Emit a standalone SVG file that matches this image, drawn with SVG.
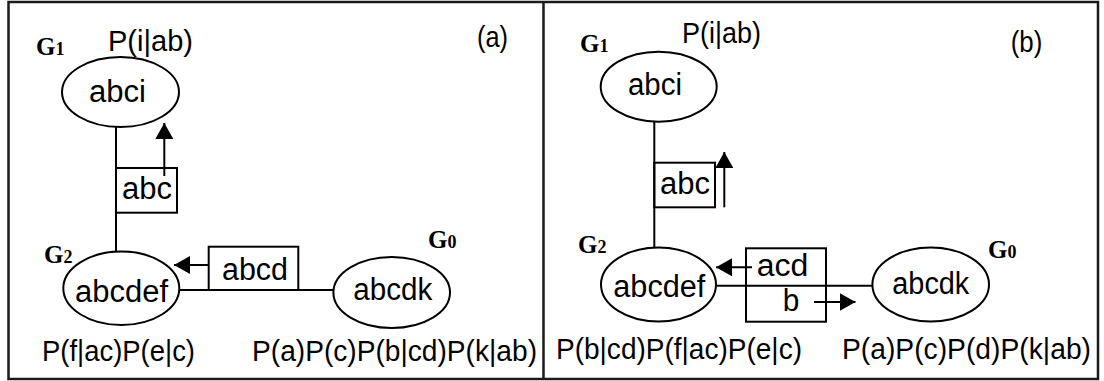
<svg xmlns="http://www.w3.org/2000/svg" width="1104" height="381" viewBox="0 0 1104 381">
<style>
.frame{fill:none;stroke:#1a1a1a;stroke-width:2.5}
.node{fill:#fff;stroke:#000;stroke-width:2}
.box{fill:none;stroke:#000;stroke-width:2}
.edge{fill:none;stroke:#000;stroke-width:2}
.arrow{fill:none;stroke:#000;stroke-width:2;marker-end:url(#ah)}
.lbl{font-family:"Liberation Sans",Arial,sans-serif;font-size:31px;fill:#000}
.prob{font-family:"Liberation Sans",Arial,sans-serif;font-size:29px;fill:#000}
.g{font-family:"Liberation Serif","Times New Roman",serif;font-weight:bold;font-size:25px;fill:#000}
.gs{font-size:18px}
</style>
<defs>
<marker id="ah" markerUnits="userSpaceOnUse" markerWidth="16" markerHeight="18" refX="16" refY="9" orient="auto">
<path d="M0,0 L16,9 L0,18 z" fill="#000"/>
</marker>
</defs>
<rect x="0" y="0" width="1104" height="381" fill="#fff"/>
<g id="frame">
<rect class="frame" x="8.5" y="2" width="1089.5" height="377"/>
<line class="frame" x1="543.5" y1="2" x2="543.5" y2="379"/>
</g>
<g id="connectors">
<line class="edge" x1="116" y1="127" x2="116" y2="252"/>
<line class="edge" x1="179.3" y1="290" x2="333.3" y2="290"/>
<line class="arrow" x1="164.3" y1="176" x2="164.3" y2="123"/>
<line class="arrow" x1="208.7" y1="265" x2="174" y2="265"/>
<line class="edge" x1="654.3" y1="121.7" x2="654.3" y2="247.5"/>
<line class="edge" x1="716" y1="285.7" x2="872.3" y2="285.7"/>
<line class="arrow" x1="724.3" y1="207.3" x2="724.3" y2="152"/>
<line class="arrow" x1="752" y1="267.3" x2="716" y2="267.3"/>
<line class="arrow" x1="814" y1="302" x2="855.5" y2="302"/>
</g>
<g id="panel-a">
<text class="prob" x="477" y="47" font-size="26" textLength="31" lengthAdjust="spacingAndGlyphs">(a)</text>
<g id="a-G1">
<text class="g" x="36" y="55">G<tspan class="gs">1</tspan></text>
<text class="prob" x="108" y="51" textLength="85" lengthAdjust="spacingAndGlyphs">P(i|ab)</text>
<ellipse class="node" cx="120.5" cy="92" rx="58.5" ry="35"/>
<text class="lbl" x="89" y="102" textLength="57" lengthAdjust="spacingAndGlyphs">abci</text>
</g>
<g id="a-sep-abc">
<rect class="box" x="116" y="168" width="61" height="44.7"/>
<text class="lbl" x="122" y="199" textLength="50" lengthAdjust="spacingAndGlyphs">abc</text>
</g>
<g id="a-G2">
<text class="g" x="44" y="263">G<tspan class="gs">2</tspan></text>
<ellipse class="node" cx="121.3" cy="288.3" rx="58" ry="36.7"/>
<text class="lbl" x="75" y="301.7" textLength="93" lengthAdjust="spacingAndGlyphs">abcdef</text>
<text class="prob" x="42" y="361" textLength="153" lengthAdjust="spacingAndGlyphs">P(f|ac)P(e|c)</text>
</g>
<g id="a-sep-abcd">
<rect class="box" x="208.7" y="246.7" width="89.6" height="43.3"/>
<text class="lbl" x="222" y="280" textLength="66" lengthAdjust="spacingAndGlyphs">abcd</text>
</g>
<g id="a-G0">
<text class="g" x="428" y="248">G<tspan class="gs">0</tspan></text>
<ellipse class="node" cx="391.7" cy="292.5" rx="58.3" ry="35.5"/>
<text class="lbl" x="353.3" y="300" textLength="79" lengthAdjust="spacingAndGlyphs">abcdk</text>
<text class="prob" x="252" y="361" textLength="285" lengthAdjust="spacingAndGlyphs">P(a)P(c)P(b|cd)P(k|ab)</text>
</g>
</g>
<g id="panel-b">
<text class="prob" x="1010.7" y="52" font-size="28" textLength="31.6" lengthAdjust="spacingAndGlyphs">(b)</text>
<g id="b-G1">
<text class="g" x="580" y="52">G<tspan class="gs">1</tspan></text>
<text class="prob" x="682" y="43" textLength="79" lengthAdjust="spacingAndGlyphs">P(i|ab)</text>
<ellipse class="node" cx="658.7" cy="86.7" rx="58" ry="35"/>
<text class="lbl" x="628" y="95" textLength="54" lengthAdjust="spacingAndGlyphs">abci</text>
</g>
<g id="b-sep-abc">
<rect class="box" x="654.3" y="162.7" width="60.7" height="44.6"/>
<text class="lbl" x="660" y="194" textLength="50" lengthAdjust="spacingAndGlyphs">abc</text>
</g>
<g id="b-G2">
<text class="g" x="578" y="253">G<tspan class="gs">2</tspan></text>
<ellipse class="node" cx="658.5" cy="284.5" rx="57.5" ry="37"/>
<text class="lbl" x="613.3" y="296.7" textLength="92" lengthAdjust="spacingAndGlyphs">abcdef</text>
<text class="prob" x="556" y="359" textLength="246" lengthAdjust="spacingAndGlyphs">P(b|cd)P(f|ac)P(e|c)</text>
</g>
<g id="b-sep-acd-b">
<rect class="box" x="746" y="248.3" width="80" height="73.4"/>
<text class="lbl" x="756.7" y="276" textLength="51.6" lengthAdjust="spacingAndGlyphs">acd</text>
<text class="lbl" x="782.7" y="311" textLength="16.6" lengthAdjust="spacingAndGlyphs">b</text>
</g>
<g id="b-G0">
<text class="g" x="988" y="258">G<tspan class="gs">0</tspan></text>
<ellipse class="node" cx="930.7" cy="284.5" rx="58.3" ry="37"/>
<text class="lbl" x="892.3" y="294" textLength="77" lengthAdjust="spacingAndGlyphs">abcdk</text>
<text class="prob" x="842" y="359" font-size="28" textLength="249" lengthAdjust="spacingAndGlyphs">P(a)P(c)P(d)P(k|ab)</text>
</g>
</g>
</svg>
